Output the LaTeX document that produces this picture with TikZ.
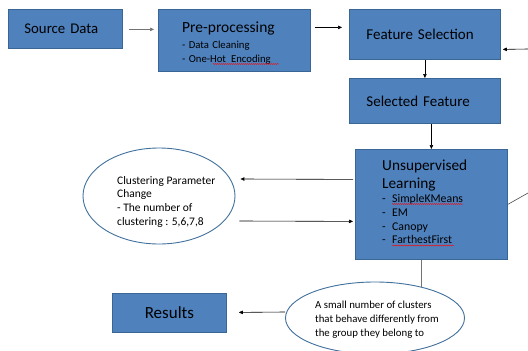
\documentclass[tikz,border=0pt]{standalone}
\usepackage{fontspec}
\setmainfont{Carlito}
\usetikzlibrary{shapes.geometric,arrows.meta,decorations.pathmorphing,calc}
\definecolor{boxfill}{HTML}{4F81BD}
\definecolor{boxline}{HTML}{3A6696}
\definecolor{ellline}{HTML}{41719C}
\begin{document}
\begin{tikzpicture}[x=1pt,y=-1pt,
  box/.style={draw=boxline, line width=0.8pt, fill=boxfill, rectangle, anchor=north west, inner ysep=0pt, align=left, text=black},
  ell/.style={draw=ellline, line width=0.9pt, fill=white, ellipse, inner sep=0pt},
  txt/.style={anchor=north west, align=left, inner sep=0pt},
  arr/.style={-{Triangle[length=4pt,width=3.5pt]}, line width=0.6pt, black},
  plain/.style={line width=0.6pt},
  squig/.style={red, line width=0.4pt, decorate, decoration={snake, amplitude=0.5pt, segment length=2pt}}]
\useasboundingbox (0,0) rectangle (528,351);
\fill[white] (0,0) rectangle (528,351);

% boxes
\node[box, inner xsep=16pt, text width=82pt, minimum height=39pt, font=\fontsize{14.8}{16}\selectfont] (src) at (8,9) {Source Data};
\node[box, minimum width=152pt, minimum height=62pt] (pre) at (158,9) {};
\node[txt, text width=125pt] (pret) at (182,22)
 {\fontsize{15.5}{17}\selectfont Pre-processing\par
  \fontsize{10.7}{15.5}\selectfont - Data Cleaning\par
  \fontsize{10.7}{14}\selectfont - One-Hot\, Encoding\par};
\node[box, inner xsep=17pt, text width=117pt, minimum height=50pt, font=\fontsize{15}{17}\selectfont] (fs) at (349,9) {Feature Selection};
\node[box, inner xsep=17pt, text width=117pt, minimum height=45pt, font=\fontsize{15}{17}\selectfont] (sf) at (349,78) {Selected Feature};
\node[box, minimum width=152pt, minimum height=110pt] (ul) at (355,149) {};
\node[txt, text width=120pt] (ult) at (382,159.5)
 {\fontsize{15.3}{18}\selectfont Unsupervised\\Learning\par
  \fontsize{11.8}{13.9}\selectfont
  \makebox[10pt][l]{-}SimpleKMeans\\
  \makebox[10pt][l]{-}EM\\
  \makebox[10pt][l]{-}Canopy\\
  \makebox[10pt][l]{-}FarthestFirst\par};
\node[box, inner xsep=0pt, text width=114pt, align=center, minimum height=39pt, font=\fontsize{17}{19}\selectfont] (res) at (112,293) {Results};

% ellipses
\node[ell, minimum width=152pt, minimum height=96pt] (e1) at (159,196) {};
\node[txt, font=\fontsize{11.5}{13.8}\selectfont] (e1t) at (117,176) {Clustering Parameter\\Change\\- The number of\\clustering : 5,6,7,8};
\node[ell, minimum width=179pt, minimum height=72pt] (e2) at (375,318) {};
\node[txt, font=\fontsize{10.8}{14}\selectfont] (e2t) at (315,300.5) {A small number of clusters\\that behave differently from\\the group they belong to};

\coordinate (offr1) at (528,193);
\coordinate (offr2) at (528,49);

% connectors
\draw[arr, black!55] ($(src.east)+(6,0.5)$) -- ($(pre.west)+(-4,-11)$);
\draw[arr] ($(pre.east)+(4,-13)$) -- ($(fs.west)+(-7,-7)$);
\draw[arr] (fs.south) -- (sf.north);
\draw[arr] (sf.south -| ul.north) -- (ul.north);
\draw[arr] ($(ul.west)+(-2,-25)$) -- ($(e1.east)+(5,-17)$);
\draw[arr] ($(e1.east)+(4,25)$) -- ($(ul.west)+(-2,17)$);
\draw[plain, black!55] (ul.south -| e2.34) -- (e2.34);
\draw[arr] ($(e2.west)+(0,-6)$) -- ($(res.east)+(12,-0.5)$);
\draw[plain, black!70] (ul.east) -- (offr1);
\draw[arr] (offr2) -- ($(fs.east)+(2,15)$);

% spell-check underlines
\draw[squig] (213,64) -- (279,64);
\draw[squig] (392,204) -- (463,204);
\draw[squig] (392,245.5) -- (454,245.5);
\end{tikzpicture}
\end{document}
